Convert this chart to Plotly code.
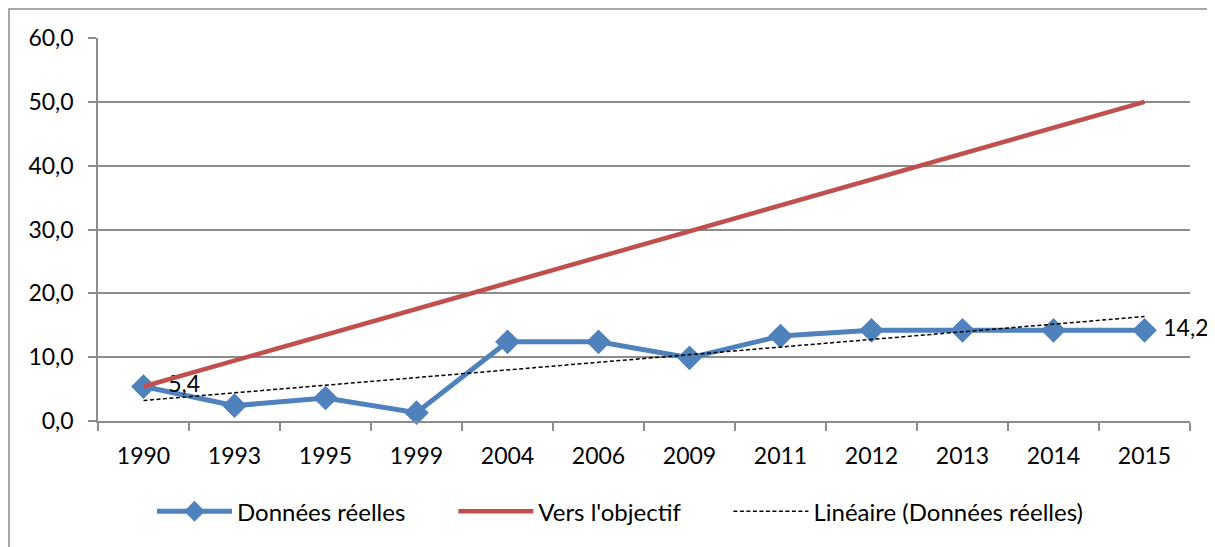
import numpy as np
import plotly.graph_objects as go

# Données
years = ["1990", "1993", "1995", "1999", "2004", "2006", "2009", "2011", "2012", "2013", "2014", "2015"]
reelles = [5.4, 2.4, 3.6, 1.3, 12.4, 12.4, 9.9, 13.3, 14.2, 14.2, 14.2, 14.2]
objectif_years = ["1990", "2015"]
objectif = [5.4, 50.0]
labels = ["  5,4", "", "", "", "", "", "", "", "", "", "", " 14,2"]

# tendance linéaire (régression sur l'index des catégories, comme Excel)
idx = np.arange(len(reelles))
slope, intercept = np.polyfit(idx, reelles, 1)
tendance = slope * idx + intercept

FONT = "Lato"
FS = 23
GRID = "#8c8c8c"
PAD = "\u00a0" * 7

fig = go.Figure()
fig.add_trace(go.Scatter(
    x=years, y=reelles, name="Données réelles" + PAD,
    mode="lines+markers+text", cliponaxis=False,
    line=dict(color="#4F81BD", width=5),
    marker=dict(symbol="diamond", size=19, color="#4F81BD"),
    text=labels, textposition="middle right",
    textfont=dict(family=FONT, size=FS, color="#000000"),
))
fig.add_trace(go.Scatter(
    x=objectif_years, y=objectif, name="Vers l'objectif" + PAD,
    mode="lines", line=dict(color="#C0504D", width=4.5),
))
fig.add_trace(go.Scatter(
    x=years, y=tendance, name="Linéaire (Données réelles)",
    mode="lines", line=dict(color="#000000", width=1.5, dash="4px,2.5px"),
))

fig.update_layout(
    width=1215, height=547,
    margin=dict(l=90, r=33, t=30, b=134, autoexpand=False),
    paper_bgcolor="white", plot_bgcolor="white",
    font=dict(family=FONT, size=FS, color="#000000"),
    separators=", ",
    showlegend=True,
    legend=dict(orientation="h", x=0.478, xanchor="center", y=-0.178, yanchor="top",
                font=dict(family=FONT, size=24), itemwidth=75),
    shapes=[dict(type="rect", xref="paper", yref="paper",
                 x0=-0.0815, x1=1.2, y0=-0.6, y1=1.0757,
                 line=dict(color="#8c8c8c", width=1.5), layer="below")],
)
fig.update_xaxes(
    type="category", range=[-0.5, 11.5], automargin=False, showgrid=False,
    showline=True, linecolor=GRID, linewidth=1.5,
    ticks="outside", tickson="boundaries", ticklen=8, tickcolor=GRID, tickwidth=1.5,
    ticklabelstandoff=14, tickfont=dict(family=FONT, size=FS),
)
fig.update_yaxes(
    range=[0, 60], dtick=10, tickformat=".1f", automargin=False,
    showgrid=True, gridcolor=GRID, gridwidth=1.5, zeroline=False,
    showline=True, linecolor=GRID, linewidth=1.5,
    ticks="outside", ticklen=8, tickcolor=GRID, tickwidth=1.5,
    ticklabelstandoff=10, tickfont=dict(family=FONT, size=FS),
)

fig.write_html("out.html")
